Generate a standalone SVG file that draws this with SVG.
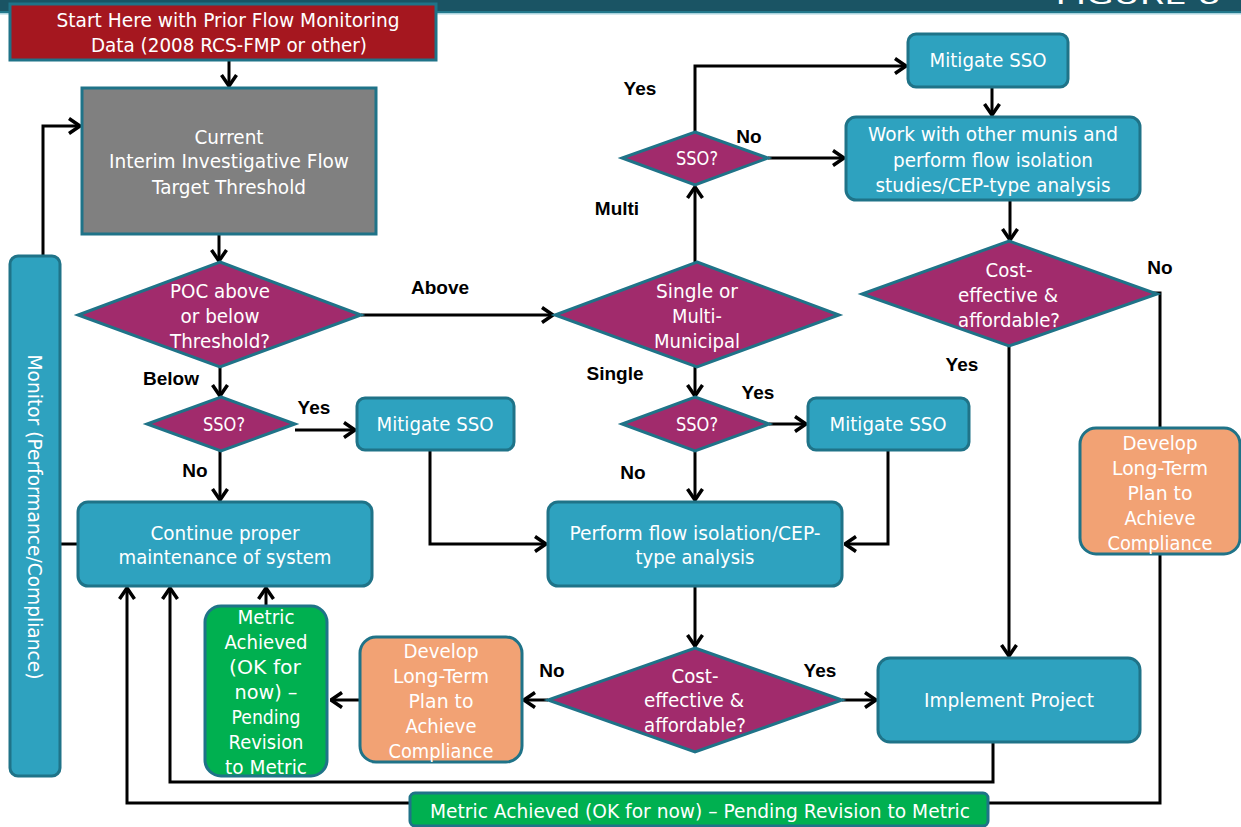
<svg xmlns="http://www.w3.org/2000/svg" width="1241" height="827" viewBox="0 0 1241 827">
  <style>
    .box { stroke: #1f7388; stroke-width: 3; }
    .teal { fill: #2ea2bf; }
    .dia { fill: #a12b6c; stroke: #1f7388; stroke-width: 3; }
    .salmon { fill: #f2a274; }
    .green { fill: #00b050; }
    .t { font-family: "DejaVu Sans", Verdana, sans-serif; font-size: 20px; fill: #ffffff; text-anchor: middle; }
    .lbl { font-family: "Liberation Sans", Arial, sans-serif; font-size: 19px; font-weight: bold; fill: #000000; text-anchor: middle; }
    .c { fill: none; stroke: #000000; stroke-width: 3; }
    .a { marker-end: url(#arrow); }
  </style>
  <defs>
    <marker id="arrow" markerUnits="userSpaceOnUse" viewBox="0 0 14 18" markerWidth="14" markerHeight="18" refX="12.5" refY="9" orient="auto">
      <path d="M1.5,1.5 L12.5,9 L1.5,16.5" fill="none" stroke="#000000" stroke-width="3.5"/>
    </marker>
  </defs>

  <rect width="1241" height="827" fill="#ffffff"/>

  <!-- title band -->
  <g id="header">
    <rect x="0" y="0" width="1241" height="11" fill="#1a5464"/>
    <rect x="0" y="11" width="1241" height="2" fill="#22788c"/>
    <rect x="0" y="13" width="1241" height="1.5" fill="#a9d3de"/>
    <text x="1138" y="4" font-family="DejaVu Sans, Verdana, sans-serif" font-size="24" fill="#ffffff" text-anchor="middle" textLength="165" lengthAdjust="spacingAndGlyphs">FIGURE 8</text>
  </g>

  <!-- connectors -->
  <g id="connectors">
    <path class="c a" d="M229,60 V86"/>
    <path class="c a" d="M219,234 V261"/>
    <path class="c a" d="M361,315 H553"/>
    <path class="c a" d="M220,367 V396"/>
    <path class="c a" d="M295,430 H355"/>
    <path class="c a" d="M220,451 V500"/>
    <path class="c a" d="M430,450 V544 H546"/>
    <path class="c a" d="M695,367 V396"/>
    <path class="c a" d="M769,424 H806"/>
    <path class="c a" d="M695,451 V500"/>
    <path class="c a" d="M888,450 V544 H845"/>
    <path class="c a" d="M695,262 V187"/>
    <path class="c a" d="M695,132 V66 H906"/>
    <path class="c a" d="M768,158 H844"/>
    <path class="c a" d="M992,87 V115"/>
    <path class="c a" d="M1010,200 V240"/>
    <path class="c" d="M1140,293 H1160 V428"/>
    <path class="c a" d="M1009,346 V656"/>
    <path class="c a" d="M695,586 V646"/>
    <path class="c a" d="M842,700 H876"/>
    <path class="c a" d="M548,700 H524"/>
    <path class="c a" d="M360,700 H331"/>
    <path class="c a" d="M266,606 V588"/>
    <path class="c a" d="M993,742 V782 H170 V588"/>
    <path class="c" d="M1160,555 V803 H988"/>
    <path class="c a" d="M410,803 H127 V588"/>
    <path class="c a" d="M43,256 V126 H80"/>
    <path class="c" d="M60,544 H78"/>
  </g>

  <!-- connector labels -->
  <g id="labels">
    <text class="lbl" x="440" y="294">Above</text>
    <text class="lbl" x="171" y="385">Below</text>
    <text class="lbl" x="314" y="414">Yes</text>
    <text class="lbl" x="195" y="477">No</text>
    <text class="lbl" x="615" y="380">Single</text>
    <text class="lbl" x="758" y="399">Yes</text>
    <text class="lbl" x="633" y="479">No</text>
    <text class="lbl" x="617" y="215">Multi</text>
    <text class="lbl" x="640" y="95">Yes</text>
    <text class="lbl" x="749" y="143">No</text>
    <text class="lbl" x="1160" y="274">No</text>
    <text class="lbl" x="962" y="371">Yes</text>
    <text class="lbl" x="552" y="677">No</text>
    <text class="lbl" x="820" y="677">Yes</text>
  </g>

  <g id="start">
    <rect class="box" x="10" y="4" width="426" height="56" fill="#a5171f"/>
    <text class="t" x="228" y="27" textLength="343" lengthAdjust="spacingAndGlyphs">Start Here with Prior Flow Monitoring</text>
    <text class="t" x="229" y="52" textLength="276" lengthAdjust="spacingAndGlyphs">Data (2008 RCS-FMP or other)</text>
  </g>

  <g id="threshold">
    <rect class="box" x="82" y="88" width="294" height="146" fill="#808080"/>
    <text class="t" x="229" y="144" textLength="69" lengthAdjust="spacingAndGlyphs">Current</text>
    <text class="t" x="229" y="168" textLength="240" lengthAdjust="spacingAndGlyphs">Interim Investigative Flow</text>
    <text class="t" x="229" y="194" textLength="154" lengthAdjust="spacingAndGlyphs">Target Threshold</text>
  </g>

  <g id="monitor">
    <rect class="box teal" x="10" y="256" width="50" height="520" rx="8"/>
    <text class="t" transform="translate(28,517) rotate(90)" x="0" y="0" textLength="325" lengthAdjust="spacingAndGlyphs">Monitor (Performance/Compliance)</text>
  </g>

  <g id="poc">
    <polygon class="dia" points="220,262 361,315 220,367 78,315"/>
    <text class="t" x="220" y="298" textLength="100" lengthAdjust="spacingAndGlyphs">POC above</text>
    <text class="t" x="220" y="323" textLength="79" lengthAdjust="spacingAndGlyphs">or below</text>
    <text class="t" x="220" y="348" textLength="100" lengthAdjust="spacingAndGlyphs">Threshold?</text>
  </g>

  <g id="sso-below">
    <polygon class="dia" points="221,397 295,424 221,451 147,424"/>
    <text class="t" x="224" y="431" textLength="42" lengthAdjust="spacingAndGlyphs">SSO?</text>
  </g>

  <g id="mitigate-below">
    <rect class="box teal" x="357" y="398" width="157" height="52" rx="8"/>
    <text class="t" x="435" y="431" textLength="117" lengthAdjust="spacingAndGlyphs">Mitigate SSO</text>
  </g>

  <g id="continue">
    <rect class="box teal" x="78" y="502" width="294" height="84" rx="10"/>
    <text class="t" x="225" y="540" textLength="149" lengthAdjust="spacingAndGlyphs">Continue proper</text>
    <text class="t" x="225" y="564" textLength="213" lengthAdjust="spacingAndGlyphs">maintenance of system</text>
  </g>

  <g id="single-multi">
    <polygon class="dia" points="697,262 839,315 697,367 555,315"/>
    <text class="t" x="697" y="298" textLength="82" lengthAdjust="spacingAndGlyphs">Single or</text>
    <text class="t" x="697" y="323" textLength="50" lengthAdjust="spacingAndGlyphs">Multi-</text>
    <text class="t" x="697" y="348" textLength="86" lengthAdjust="spacingAndGlyphs">Municipal</text>
  </g>

  <g id="sso-single">
    <polygon class="dia" points="695,397 769,424 695,451 622,424"/>
    <text class="t" x="697" y="431" textLength="42" lengthAdjust="spacingAndGlyphs">SSO?</text>
  </g>

  <g id="mitigate-single">
    <rect class="box teal" x="808" y="398" width="161" height="52" rx="8"/>
    <text class="t" x="888" y="431" textLength="117" lengthAdjust="spacingAndGlyphs">Mitigate SSO</text>
  </g>

  <g id="perform">
    <rect class="box teal" x="548" y="502" width="294" height="84" rx="10"/>
    <text class="t" x="695" y="540" textLength="251" lengthAdjust="spacingAndGlyphs">Perform flow isolation/CEP-</text>
    <text class="t" x="695" y="564" textLength="119" lengthAdjust="spacingAndGlyphs">type analysis</text>
  </g>

  <g id="sso-multi">
    <polygon class="dia" points="695,132 768,158 695,185 622,158"/>
    <text class="t" x="697" y="165" textLength="42" lengthAdjust="spacingAndGlyphs">SSO?</text>
  </g>

  <g id="mitigate-multi">
    <rect class="box teal" x="908" y="34" width="160" height="53" rx="8"/>
    <text class="t" x="988" y="67" textLength="117" lengthAdjust="spacingAndGlyphs">Mitigate SSO</text>
  </g>

  <g id="work-munis">
    <rect class="box teal" x="846" y="117" width="294" height="83" rx="10"/>
    <text class="t" x="993" y="141" textLength="250" lengthAdjust="spacingAndGlyphs">Work with other munis and</text>
    <text class="t" x="993" y="167" textLength="200" lengthAdjust="spacingAndGlyphs">perform flow isolation</text>
    <text class="t" x="993" y="192" textLength="235" lengthAdjust="spacingAndGlyphs">studies/CEP-type analysis</text>
  </g>

  <g id="cost-multi">
    <polygon class="dia" points="1009,241 1157,294 1009,346 862,294"/>
    <text class="t" x="1009" y="277" textLength="47" lengthAdjust="spacingAndGlyphs">Cost-</text>
    <text class="t" x="1008" y="302" textLength="100" lengthAdjust="spacingAndGlyphs">effective &amp;</text>
    <text class="t" x="1009" y="327" textLength="102" lengthAdjust="spacingAndGlyphs">affordable?</text>
  </g>

  <g id="plan-multi">
    <rect class="box salmon" x="1080" y="428" width="160" height="126" rx="16"/>
    <text class="t" x="1160" y="450" textLength="75" lengthAdjust="spacingAndGlyphs">Develop</text>
    <text class="t" x="1160" y="475" textLength="96" lengthAdjust="spacingAndGlyphs">Long-Term</text>
    <text class="t" x="1160" y="500" textLength="65" lengthAdjust="spacingAndGlyphs">Plan to</text>
    <text class="t" x="1160" y="525" textLength="71" lengthAdjust="spacingAndGlyphs">Achieve</text>
    <text class="t" x="1160" y="550" textLength="105" lengthAdjust="spacingAndGlyphs">Compliance</text>
  </g>

  <g id="cost-single">
    <polygon class="dia" points="695,648 842,700 695,752 548,700"/>
    <text class="t" x="695" y="683" textLength="47" lengthAdjust="spacingAndGlyphs">Cost-</text>
    <text class="t" x="694" y="707" textLength="100" lengthAdjust="spacingAndGlyphs">effective &amp;</text>
    <text class="t" x="695" y="732" textLength="102" lengthAdjust="spacingAndGlyphs">affordable?</text>
  </g>

  <g id="implement">
    <rect class="box teal" x="878" y="658" width="262" height="84" rx="12"/>
    <text class="t" x="1009" y="707" textLength="170" lengthAdjust="spacingAndGlyphs">Implement Project</text>
  </g>

  <g id="plan-single">
    <rect class="box salmon" x="360" y="637" width="162" height="125" rx="16"/>
    <text class="t" x="441" y="658" textLength="75" lengthAdjust="spacingAndGlyphs">Develop</text>
    <text class="t" x="441" y="683" textLength="96" lengthAdjust="spacingAndGlyphs">Long-Term</text>
    <text class="t" x="441" y="708" textLength="65" lengthAdjust="spacingAndGlyphs">Plan to</text>
    <text class="t" x="441" y="733" textLength="71" lengthAdjust="spacingAndGlyphs">Achieve</text>
    <text class="t" x="441" y="758" textLength="105" lengthAdjust="spacingAndGlyphs">Compliance</text>
  </g>

  <g id="metric-small">
    <rect class="box green" x="205" y="606" width="122" height="170" rx="16"/>
    <text class="t" x="266" y="624" textLength="57" lengthAdjust="spacingAndGlyphs">Metric</text>
    <text class="t" x="266" y="649" textLength="83" lengthAdjust="spacingAndGlyphs">Achieved</text>
    <text class="t" x="265" y="674" textLength="72" lengthAdjust="spacingAndGlyphs">(OK for</text>
    <text class="t" x="266" y="699" textLength="63" lengthAdjust="spacingAndGlyphs">now) –</text>
    <text class="t" x="266" y="724" textLength="69" lengthAdjust="spacingAndGlyphs">Pending</text>
    <text class="t" x="266" y="749" textLength="75" lengthAdjust="spacingAndGlyphs">Revision</text>
    <text class="t" x="266" y="774" textLength="82" lengthAdjust="spacingAndGlyphs">to Metric</text>
  </g>

  <g id="metric-bottom">
    <rect class="box green" x="410" y="793" width="578" height="33" rx="5"/>
    <text class="t" x="700" y="818" textLength="540" lengthAdjust="spacingAndGlyphs">Metric Achieved (OK for now) – Pending Revision to Metric</text>
  </g>
</svg>
